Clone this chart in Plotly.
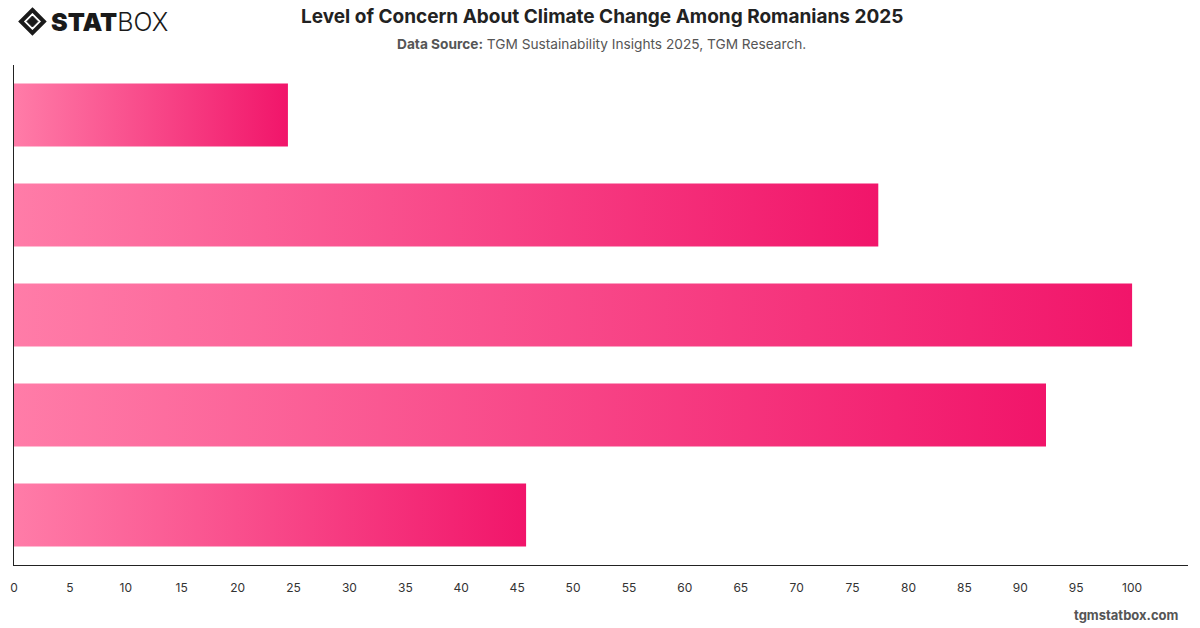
import plotly.graph_objects as go

categories = ["Extremely concerned", "Very concerned", "Moderately concerned", "Slightly concerned", "Not at all concerned"]
values = [24.5, 77.3, 100.0, 92.3, 45.8]
x_ticks = list(range(0, 101, 5))

BAR_HALF = 0.315
fig = go.Figure()
for i, (cat, v) in enumerate(zip(categories, values)):
    fig.add_trace(go.Scatter(
        x=[0, v, v, 0, 0],
        y=[i - BAR_HALF, i - BAR_HALF, i + BAR_HALF, i + BAR_HALF, i - BAR_HALF],
        mode="lines", line=dict(width=0),
        fill="toself",
        fillgradient=dict(type="horizontal",
                          colorscale=[[0, "#ff7ca8"], [1, "#f1156a"]]),
        name=cat, hoveron="fills", text=f"{cat}: {v}", hoverinfo="text",
        showlegend=False,
    ))

ML, MR, MT, MB = 10, 12, 65, 63
fig.update_layout(
    width=1200, height=628,
    margin=dict(l=ML, r=MR, t=MT, b=MB),
    paper_bgcolor="white", plot_bgcolor="white",
    font=dict(family="Inter, Roboto, sans-serif", color="#333333"),
    xaxis=dict(range=[0, 105], tickvals=x_ticks, showgrid=False, zeroline=False,
               showline=True, linecolor="#222222", linewidth=1,
               ticks="", ticklen=0, ticklabelstandoff=12,
               tickfont=dict(size=12, color="#333333"),
               fixedrange=True),
    yaxis=dict(range=[4.5, -0.5], showticklabels=False, showgrid=False, zeroline=False,
               showline=True, linecolor="#222222", linewidth=1, ticks="",
               fixedrange=True),
)

pw = 1200 - ML - MR
ph = 628 - MT - MB

def px2paper(x, y):
    return (x - ML) / pw, (628 - MB - y) / ph

def add_text(text, x, y, size, color, xanchor="center"):
    px, py = px2paper(x, y)
    fig.add_annotation(text=text, x=px, y=py, xref="paper", yref="paper",
                       xanchor=xanchor, yanchor="middle", showarrow=False,
                       font=dict(size=size, color=color, family="Inter, Roboto, sans-serif"))

add_text("<b>Level of Concern About Climate Change Among Romanians 2025</b>", 600, 17, 19, "#222222")
add_text("<b>Data Source:</b> TGM Sustainability Insights 2025, TGM Research.", 600, 44, 13.7, "#555555")
add_text("<b>tgmstatbox.com</b>", 1181, 615, 13, "#555555", xanchor="right")

# logo
cx, cy, r = 28.5, 21.5, 11.5
pts = [(cx, cy - r), (cx + r, cy), (cx, cy + r), (cx - r, cy)]
path = "M " + " L ".join(f"{px2paper(x, y)[0]},{px2paper(x, y)[1]}" for x, y in pts) + " Z"
fig.add_shape(type="path", path=path, xref="paper", yref="paper",
              line=dict(color="#1a1a1a", width=4), fillcolor="rgba(0,0,0,0)")
r2 = 5.5
pts2 = [(cx, cy - r2), (cx + r2, cy), (cx, cy + r2), (cx - r2, cy)]
path2 = "M " + " L ".join(f"{px2paper(x, y)[0]},{px2paper(x, y)[1]}" for x, y in pts2) + " Z"
fig.add_shape(type="path", path=path2, xref="paper", yref="paper",
              line=dict(color="#1a1a1a", width=1), fillcolor="#1a1a1a")
add_text("<span style='font-weight:900'>STAT</span><span style='font-weight:300'>BOX</span>",
         45, 22, 25, "#1a1a1a", xanchor="left")

fig.write_html("out.html")
